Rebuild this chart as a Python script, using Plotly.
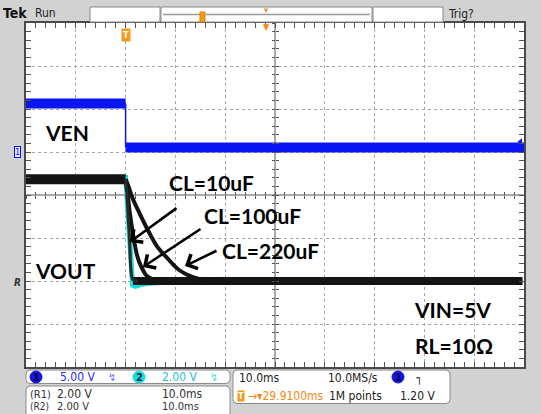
import plotly.graph_objects as go

# ---------------- data ----------------
# time axis in ms (10 ms/div), trigger at t = 0
t_range = [-20, 80]

# CH1 : VEN (volts), 5 V/div
ven_t = [-20, 0, 0, 80]
ven_v = [5.64, 5.64, 0.52, 0.52]
ven_trig_level = 1.20

# CH2 / references : VOUT (volts), 2 V/div
vout_pre_t = [-20, 0]
vout_pre_v = [4.78, 4.78]
vout_base_t = [1.5, 79.7]
vout_base_v = [0.05, 0.05]

cyan_t = [-20, 0, 0.3, 0.6, 0.9, 1.1, 1.4, 2.0, 3.0, 5.0, 8.0, 79.7]
cyan_v = [4.86, 4.86, 3.9, 2.5, 1.2, 0.3, -0.15, -0.2, -0.12, -0.05, 0.0, 0.02]

c10_t = [0, 0.3, 0.5, 0.8, 1.0, 1.2, 1.5, 2.5]
c10_v = [4.78, 3.9, 3.1, 1.9, 0.8, 0.3, 0.1, 0.05]

c100_t = [0, 0.4, 0.8, 1.3, 1.8, 2.3, 2.8, 3.4, 4.2, 5.5, 7.0]
c100_v = [4.78, 4.1, 3.3, 2.5, 1.8, 1.25, 0.9, 0.6, 0.3, 0.12, 0.05]

c220_t = [0, 0.5, 1.4, 2.8, 4.8, 6.5, 8.2, 10.8, 13.5, 16.0, 19.0]
c220_v = [4.78, 4.5, 3.9, 3.2, 2.27, 1.6, 1.16, 0.55, 0.23, 0.1, 0.05]

# ---------------- geometry helpers (layout only) ----------------
L, R, T, B = 26, 524, 23, 367
W, H = 541, 414


def px(x):
    return (x - L) / (R - L)


def py(y):
    return (B - y) / (B - T)


fig = go.Figure()

BLUE = "#0a16f2"
CYAN = "#12dede"
BLACK = "#141414"

fig.add_trace(go.Scatter(x=[None], y=[None], mode="lines"))

# VEN
fig.add_trace(go.Scatter(x=ven_t[:2], y=ven_v[:2], yaxis="y2", mode="lines",
                         line=dict(color=BLUE, width=10)))
fig.add_trace(go.Scatter(x=ven_t[1:3], y=ven_v[1:3], yaxis="y2", mode="lines",
                         line=dict(color=BLUE, width=1.5)))
fig.add_trace(go.Scatter(x=ven_t[2:], y=ven_v[2:], yaxis="y2", mode="lines",
                         line=dict(color=BLUE, width=10)))
fig.add_trace(go.Scatter(x=[79.3], y=[ven_trig_level], yaxis="y2", mode="markers",
                         marker=dict(symbol="triangle-left", size=6, color=BLUE)))

# VOUT
fig.add_trace(go.Scatter(x=cyan_t, y=cyan_v, yaxis="y3", mode="lines",
                         line=dict(color=CYAN, width=5)))
fig.add_trace(go.Scatter(x=vout_pre_t, y=vout_pre_v, yaxis="y3", mode="lines",
                         line=dict(color=BLACK, width=10)))
fig.add_trace(go.Scatter(x=vout_base_t, y=vout_base_v, yaxis="y3", mode="lines",
                         line=dict(color=BLACK, width=8)))
fig.add_trace(go.Scatter(x=c220_t, y=c220_v, yaxis="y3", mode="lines",
                         line=dict(color=BLACK, width=4, shape="spline")))
fig.add_trace(go.Scatter(x=c100_t, y=c100_v, yaxis="y3", mode="lines",
                         line=dict(color=BLACK, width=4, shape="spline")))
fig.add_trace(go.Scatter(x=c10_t, y=c10_v, yaxis="y3", mode="lines",
                         line=dict(color="#2a2a2a", width=3, shape="spline")))

# empty traces carrying the centre-line tick axes
for xa, ya in [("x2", "y"), ("x3", "y"), ("x", "y4"), ("x", "y5")]:
    fig.add_trace(go.Scatter(x=[None], y=[None], xaxis=xa, yaxis=ya, mode="lines"))

GRID = "#a6a6a6"
FRAME = "#4a4a4a"
TICKC = "#555555"

cx = dict(range=t_range, showticklabels=False, zeroline=False, tickmode="linear",
          dtick=10, tick0=0)
cy = dict(range=[-4, 4], showticklabels=False, zeroline=False, tickmode="linear",
          dtick=1, tick0=0)


def centre_axis(base, ticks, minor_dtick):
    return dict(**base, overlaying=("x" if "tick0" in base and base["dtick"] == 10 else "y"),
                anchor="free", position=0.5, showgrid=False, showline=False,
                ticks=ticks, ticklen=3, tickcolor=TICKC,
                minor=dict(dtick=minor_dtick, ticks=ticks, ticklen=3, tickcolor=TICKC))


fig.update_layout(
    width=W, height=H,
    margin=dict(l=L, r=W - R, t=T, b=H - B, pad=0),
    paper_bgcolor="#d2d2d2", plot_bgcolor="white", showlegend=False,
    xaxis=dict(**cx, showgrid=True, gridcolor=GRID, gridwidth=1, griddash="dot",
               showline=True, linecolor=FRAME, linewidth=1.5, mirror="allticks",
               ticks="inside", ticklen=5, tickcolor=TICKC,
               minor=dict(dtick=2, ticks="inside", ticklen=4, tickcolor=TICKC,
                          showgrid=False)),
    yaxis=dict(**cy, showgrid=True, gridcolor=GRID, gridwidth=1, griddash="dot",
               showline=True, linecolor=FRAME, linewidth=1.5, mirror="allticks",
               ticks="inside", ticklen=5, tickcolor=TICKC,
               minor=dict(dtick=0.2, ticks="inside", ticklen=4, tickcolor=TICKC,
                          showgrid=False)),
    yaxis2=dict(range=[-25, 15], overlaying="y", visible=False),
    yaxis3=dict(range=[-3.95, 12.05], overlaying="y", visible=False),
    xaxis2=centre_axis(cx, "inside", 2),
    xaxis3=centre_axis(cx, "outside", 2),
    yaxis4=centre_axis(cy, "inside", 0.2),
    yaxis5=centre_axis(cy, "outside", 0.2),
)

shapes = []
ann = []

# centre cross lines
shapes.append(dict(type="line", xref="paper", yref="paper", x0=0, x1=1, y0=0.5, y1=0.5,
                   line=dict(color="#555555", width=1), layer="below"))
shapes.append(dict(type="line", xref="paper", yref="paper", x0=0.5, x1=0.5, y0=0, y1=1,
                   line=dict(color="#555555", width=1), layer="below"))


def rect(x0, y0, x1, y1, fill="white", line="#8a8a8a", lw=1, r=0):
    if r == 0:
        shapes.append(dict(type="rect", xref="paper", yref="paper",
                           x0=px(x0), x1=px(x1), y0=py(y1), y1=py(y0),
                           fillcolor=fill, line=dict(color=line, width=lw), layer="above"))
    else:
        p = (f"M{px(x0 + r)},{py(y0)} L{px(x1 - r)},{py(y0)} "
             f"Q{px(x1)},{py(y0)} {px(x1)},{py(y0 + r)} L{px(x1)},{py(y1 - r)} "
             f"Q{px(x1)},{py(y1)} {px(x1 - r)},{py(y1)} L{px(x0 + r)},{py(y1)} "
             f"Q{px(x0)},{py(y1)} {px(x0)},{py(y1 - r)} L{px(x0)},{py(y0 + r)} "
             f"Q{px(x0)},{py(y0)} {px(x0 + r)},{py(y0)} Z")
        shapes.append(dict(type="path", xref="paper", yref="paper", path=p,
                           fillcolor=fill, line=dict(color=line, width=lw), layer="above"))


def circ(cx_, cy_, rr, fill):
    shapes.append(dict(type="circle", xref="paper", yref="paper",
                       x0=px(cx_ - rr), x1=px(cx_ + rr), y0=py(cy_ + rr), y1=py(cy_ - rr),
                       fillcolor=fill, line=dict(color=fill, width=1), layer="above"))


def text(x, y, s, size=12, color="#222222", anchor="left", family=None, weight="normal",
         **kw):
    ann.append(dict(xref="paper", yref="paper", x=px(x), y=py(y), text=s, showarrow=False,
                    xanchor=anchor, yanchor="middle",
                    font=dict(size=size, color=color,
                              family=family or "Liberation Sans Narrow, DejaVu Sans Condensed, Liberation Sans",
                              weight=weight), **kw))


# ---- top bar ----
text(1, 13, "Tek", size=14, color="#111111", weight="bold")
text(33, 13, "Run", size=12, color="#222222")
rect(90, 7, 160, 22)
rect(161, 7, 372, 22)
shapes.append(dict(type="line", xref="paper", yref="paper", x0=px(163), x1=px(370),
                   y0=py(14.5), y1=py(14.5), line=dict(color="#9a9a9a", width=1.5)))
rect(373, 7, 443, 22)
rect(200, 12, 205, 22, fill="#f39a1c", line="#e08000")
text(266, 9.5, "▾", size=9, color="#f08a10", anchor="center")
text(446, 14, "Trig?", size=12, color="#222222")

# ---- plot decorations ----
text(266, 27, "▼", size=9, color="#f08a10", anchor="center")
text(126, 35, "<b>T</b>", size=9, color="white", anchor="center", bgcolor="#f39a1c",
     borderpad=1)
text(17, 152, "1", size=9, color=BLUE, anchor="center", bgcolor="#e6e6ff",
     bordercolor=BLUE, borderwidth=1, borderpad=0)
text(17, 282, "<b><i>R</i></b>", size=10, color="#333333", anchor="center")

# ---- big labels ----
LAB = dict(size=21, color="black", anchor="center", family="Lato, Liberation Sans",
           weight="bold")
text(67, 132, "VEN", **LAB)
text(65, 270, "VOUT", **LAB)
text(211, 182.5, "CL=10uF", **LAB)
text(252, 215, "CL=100uF", **LAB)
text(270, 250, "CL=220uF", **LAB)
text(452, 309.5, "VIN=5V", **LAB)
text(454, 345.5, "RL=10Ω", **LAB)

for (hx, hy), (tx, ty) in [((130, 242), (178, 207)), ((143, 267), (202, 228)),
                           ((185, 266), (218, 250))]:
    ann.append(dict(xref="paper", yref="paper", x=px(hx), y=py(hy), ax=tx - hx,
                    ay=ty - hy, axref="pixel", ayref="pixel", showarrow=True,
                    arrowhead=4, arrowsize=1.2, arrowwidth=2.6, arrowcolor="black",
                    text=""))

# ---- bottom readouts ----
rect(26, 370, 230, 383.5, r=4)
circ(36, 377, 6, "#1414e6")
text(36, 377, "1", size=11, color="#000033", anchor="center", weight="bold")
text(58, 377, "5.00 V", size=12, color="#2a2af0")
text(106, 377, "↯", size=11, color="#6a78e8")
circ(139, 377, 6, CYAN)
text(139, 377, "2", size=11, color="#003333", anchor="center", weight="bold")
text(160, 377, "2.00 V", size=12, color="#18c4cc")
text(208, 377, "↯", size=11, color="#60d8d8")

rect(26, 386, 230, 425, r=4)
text(28, 394, "(R1)", size=11, color="#333333")
text(55, 394, "2.00 V", size=12, color="#333333")
text(160, 394, "10.0ms", size=12, color="#333333")
text(28, 406.5, "(R2)", size=10, color="#333333")
text(55, 406.5, "2.00 V", size=11, color="#333333")
text(160, 406.5, "10.0ms", size=11, color="#333333")

rect(233, 370, 450, 403.5, r=4)
text(237, 378, "10.0ms", size=12, color="#222222")
text(326, 378, "10.0MS/s", size=12, color="#222222")
circ(398, 377, 6, "#1414e6")
text(398, 377, "1", size=11, color="#000033", anchor="center", weight="bold")
text(414, 378, "┐", size=12, color="#222222")
text(241, 396, "<b>T</b>", size=9, color="white", anchor="center", bgcolor="#f39a1c",
     borderpad=0)
text(246, 396, "→▾29.9100ms", size=12, color="#f08a10")
text(327, 396, "1M points", size=12, color="#222222")
text(398, 396, "1.20 V", size=12, color="#222222")

fig.update_layout(shapes=shapes, annotations=ann)
fig.write_html("out.html", config={"displayModeBar": False},
               post_script="document.body.style.margin='0px';")
